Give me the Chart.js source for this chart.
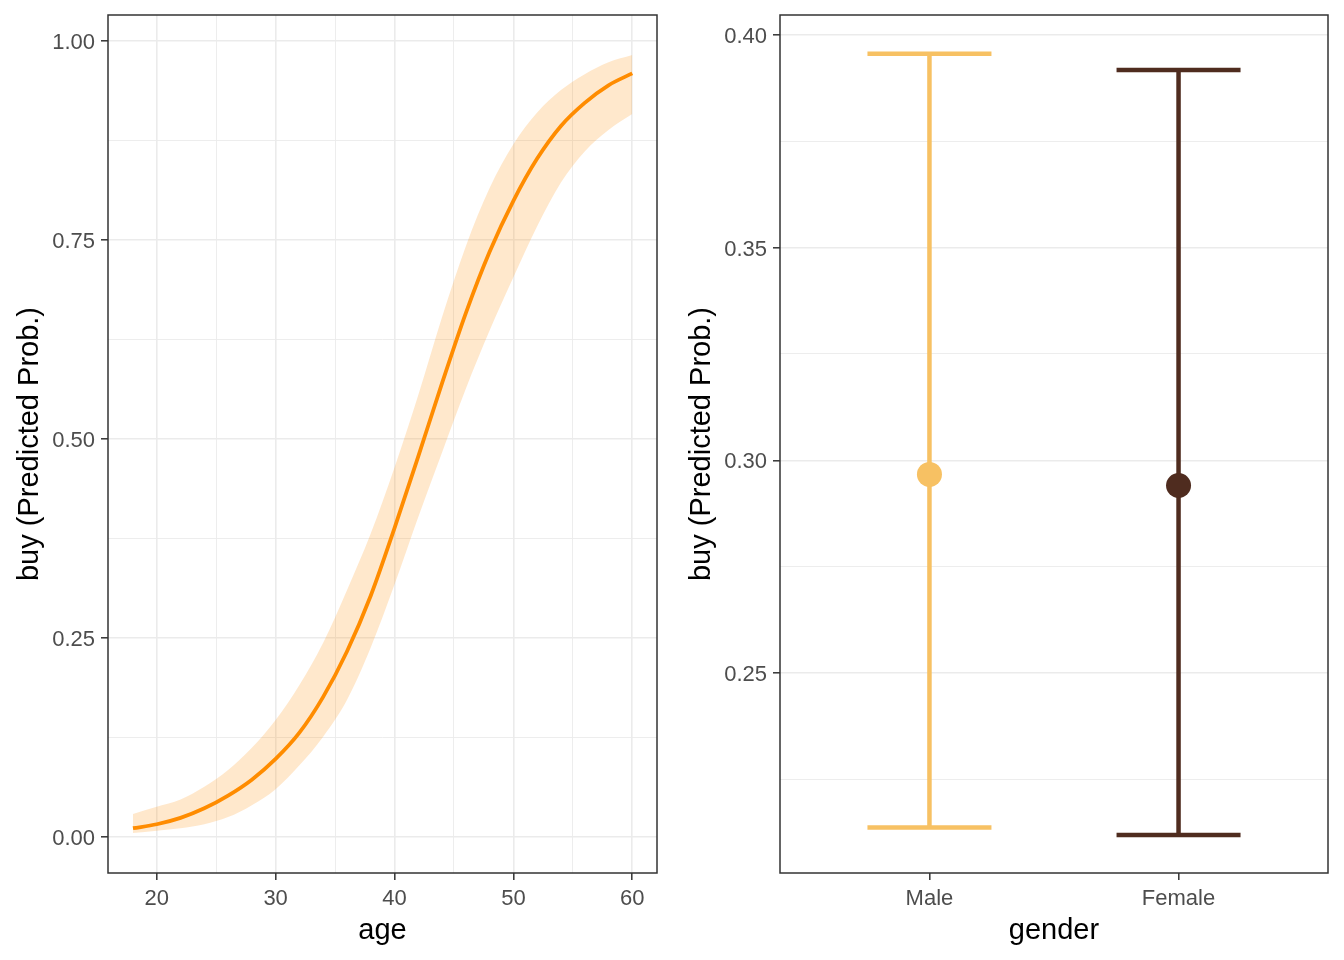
<!DOCTYPE html>
<html>
<head>
<meta charset="utf-8">
<title>buy - predicted probabilities</title>
<script src="https://cdn.jsdelivr.net/npm/chart.js@4.4.0/dist/chart.umd.min.js"></script>
<style>
  body { margin: 0; background: #fff; }
  #wrap { position: relative; width: 1344px; height: 960px; }
  canvas { position: absolute; top: 0; }
  #ageChart { left: 0; }
  #genderChart { left: 672px; }
</style>
</head>
<body>
<div id="wrap">
  <canvas id="ageChart" width="672" height="960"></canvas>
  <canvas id="genderChart" width="672" height="960"></canvas>
</div>
<script>
// Left panel: predicted probability by age
const ages = [18, 20, 22, 24, 26, 28, 30, 32, 34, 36, 38, 40, 42, 44, 46, 48, 50, 52, 54, 56, 58, 60];
const ageFit = [0.011, 0.016, 0.024, 0.036, 0.052, 0.072, 0.098, 0.131, 0.176, 0.233, 0.303, 0.388,
                0.478, 0.570, 0.658, 0.735, 0.799, 0.852, 0.893, 0.922, 0.944, 0.959];
const ageUpper = [0.029, 0.038, 0.047, 0.063, 0.084, 0.112, 0.147, 0.191, 0.244, 0.310, 0.381, 0.464,
                  0.555, 0.653, 0.742, 0.815, 0.870, 0.910, 0.938, 0.958, 0.973, 0.982];
const ageLower = [0.005, 0.008, 0.011, 0.016, 0.025, 0.040, 0.060, 0.090, 0.126, 0.172, 0.238, 0.317,
                  0.402, 0.483, 0.563, 0.636, 0.703, 0.767, 0.822, 0.861, 0.888, 0.908];
const ageTicks = [20, 30, 40, 50, 60];
const ageMinorTicks = [25, 35, 45, 55];
const probTicks = [0, 0.25, 0.5, 0.75, 1];
const probMinorTicks = [0.125, 0.375, 0.625, 0.875];

// Right panel: predicted probability by gender
const genders = ['Male', 'Female'];
const genderFit = [0.2967, 0.2941];
const genderUpper = [0.3955, 0.3917];
const genderLower = [0.2138, 0.2120];
const genderColors = ['#F7C163', '#4F2C1F'];
const genderProbTicks = [0.25, 0.30, 0.35, 0.40];
const genderProbMinorTicks = [0.225, 0.275, 0.325, 0.375];

const FONT = "'Liberation Sans', Arial, sans-serif";

function isMajor(list, v) {
    return list.some(t => Math.abs(t - v) < 1e-9);
}

// one scale in the ggplot theme_bw look
function buildScale(cfg) {
    return {
        type: 'linear',
        min: cfg.min,
        max: cfg.max,
        afterBuildTicks: function(scale) {
            scale.ticks = cfg.major.concat(cfg.minor)
                .sort((a, b) => a - b)
                .map(v => ({ value: v }));
        },
        afterFit: function(scale) {
            if (cfg.horizontal) {
                scale.height = 87;
            } else {
                scale.width = 108;
            }
            scale.paddingTop = 0;
            scale.paddingBottom = 0;
            scale.paddingLeft = 0;
            scale.paddingRight = 0;
        },
        border: { display: false },
        grid: {
            color: cfg.gridColor || '#EBEBEB',
            lineWidth: ctx => isMajor(cfg.major, ctx.tick.value) ? 1.6 : 0.9,
            drawTicks: true,
            tickLength: 7,
            tickWidth: 1.5,
            tickColor: ctx => isMajor(cfg.major, ctx.tick.value) ? '#333333' : 'rgba(0,0,0,0)'
        },
        ticks: {
            autoSkip: false,
            maxRotation: 0,
            minRotation: 0,
            padding: 6,
            labelOffset: cfg.horizontal ? 0 : 2,
            color: '#4D4D4D',
            font: { family: FONT, size: 22 },
            callback: function(value) {
                return isMajor(cfg.major, value) ? cfg.label(value) : '';
            }
        },
        title: {
            display: true,
            text: cfg.title,
            color: '#000000',
            font: { family: FONT, size: 29 },
            padding: cfg.horizontal ? { top: 0, bottom: 12 } : { top: 13, bottom: 0 }
        }
    };
}

// full panel border
const panelBorder = {
    id: 'panelBorder',
    afterDraw(chart) {
        const { ctx, chartArea: a } = chart;
        ctx.save();
        ctx.strokeStyle = '#333333';
        ctx.lineWidth = 1.5;
        ctx.strokeRect(a.left, a.top, a.right - a.left, a.bottom - a.top);
        ctx.restore();
    }
};

const baseOptions = {
    responsive: false,
    animation: false,
    events: [],
    plugins: {
        legend: { display: false },
        tooltip: { enabled: false }
    }
};

// Age chart
const toPoints = arr => ages.map((a, i) => ({ x: a, y: arr[i] }));

new Chart(document.getElementById('ageChart'), {
    type: 'line',
    data: {
        datasets: [
            {
                label: 'fit',
                data: toPoints(ageFit),
                borderColor: '#FF8C00',
                borderWidth: 3.8,
                pointRadius: 0,
                fill: false,
                cubicInterpolationMode: 'monotone'
            },
            {
                label: 'upper',
                data: toPoints(ageUpper),
                borderColor: 'rgba(0,0,0,0)',
                borderWidth: 0,
                pointRadius: 0,
                fill: '+1',
                backgroundColor: 'rgba(255, 140, 0, 0.2)',
                cubicInterpolationMode: 'monotone'
            },
            {
                label: 'lower',
                data: toPoints(ageLower),
                borderColor: 'rgba(0,0,0,0)',
                borderWidth: 0,
                pointRadius: 0,
                fill: false,
                cubicInterpolationMode: 'monotone'
            }
        ]
    },
    options: Object.assign({}, baseOptions, {
        layout: { autoPadding: false, padding: { top: 15, right: 15, bottom: 0, left: 0 } },
        scales: {
            x: buildScale({
                horizontal: true,
                min: 15.9, max: 62.08,
                major: ageTicks, minor: ageMinorTicks,
                label: v => String(v),
                title: 'age'
            }),
            y: buildScale({
                min: -0.0452, max: 1.0323,
                major: probTicks, minor: probMinorTicks,
                label: v => v.toFixed(2),
                title: 'buy (Predicted Prob.)'
            })
        }
    }),
    plugins: [panelBorder]
});

// Gender chart: whisker, caps and point for each level
const genderDatasets = [];
genders.forEach(function(g, i) {
    const c = genderColors[i];
    genderDatasets.push({
        label: g + ' range',
        data: [{ x: i + 1, y: genderLower[i] }, { x: i + 1, y: genderUpper[i] }],
        showLine: true,
        borderColor: c,
        borderWidth: 4.5,
        pointRadius: 0,
        order: 3
    });
    genderDatasets.push({
        label: g + ' caps',
        data: [{ x: i + 1, y: genderUpper[i] }, { x: i + 1, y: genderLower[i] }],
        showLine: false,
        pointStyle: 'line',
        pointRadius: 62,
        pointBorderWidth: 4.5,
        pointBorderColor: c,
        order: 2
    });
    genderDatasets.push({
        label: g,
        data: [{ x: i + 1, y: genderFit[i] }],
        showLine: false,
        pointRadius: 12.5,
        pointBackgroundColor: c,
        pointBorderColor: c,
        pointBorderWidth: 0,
        order: 1
    });
});

new Chart(document.getElementById('genderChart'), {
    type: 'scatter',
    data: { datasets: genderDatasets },
    options: Object.assign({}, baseOptions, {
        layout: { autoPadding: false, padding: { top: 15, right: 16, bottom: 0, left: 0 } },
        scales: {
            x: buildScale({
                horizontal: true,
                min: 0.4, max: 2.6,
                major: [1, 2], minor: [],
                gridColor: 'rgba(0,0,0,0)',
                label: v => genders[Math.round(v) - 1],
                title: 'gender'
            }),
            y: buildScale({
                min: 0.2031, max: 0.4046,
                major: genderProbTicks, minor: genderProbMinorTicks,
                label: v => v.toFixed(2),
                title: 'buy (Predicted Prob.)'
            })
        }
    }),
    plugins: [panelBorder]
});
</script>
</body>
</html>
